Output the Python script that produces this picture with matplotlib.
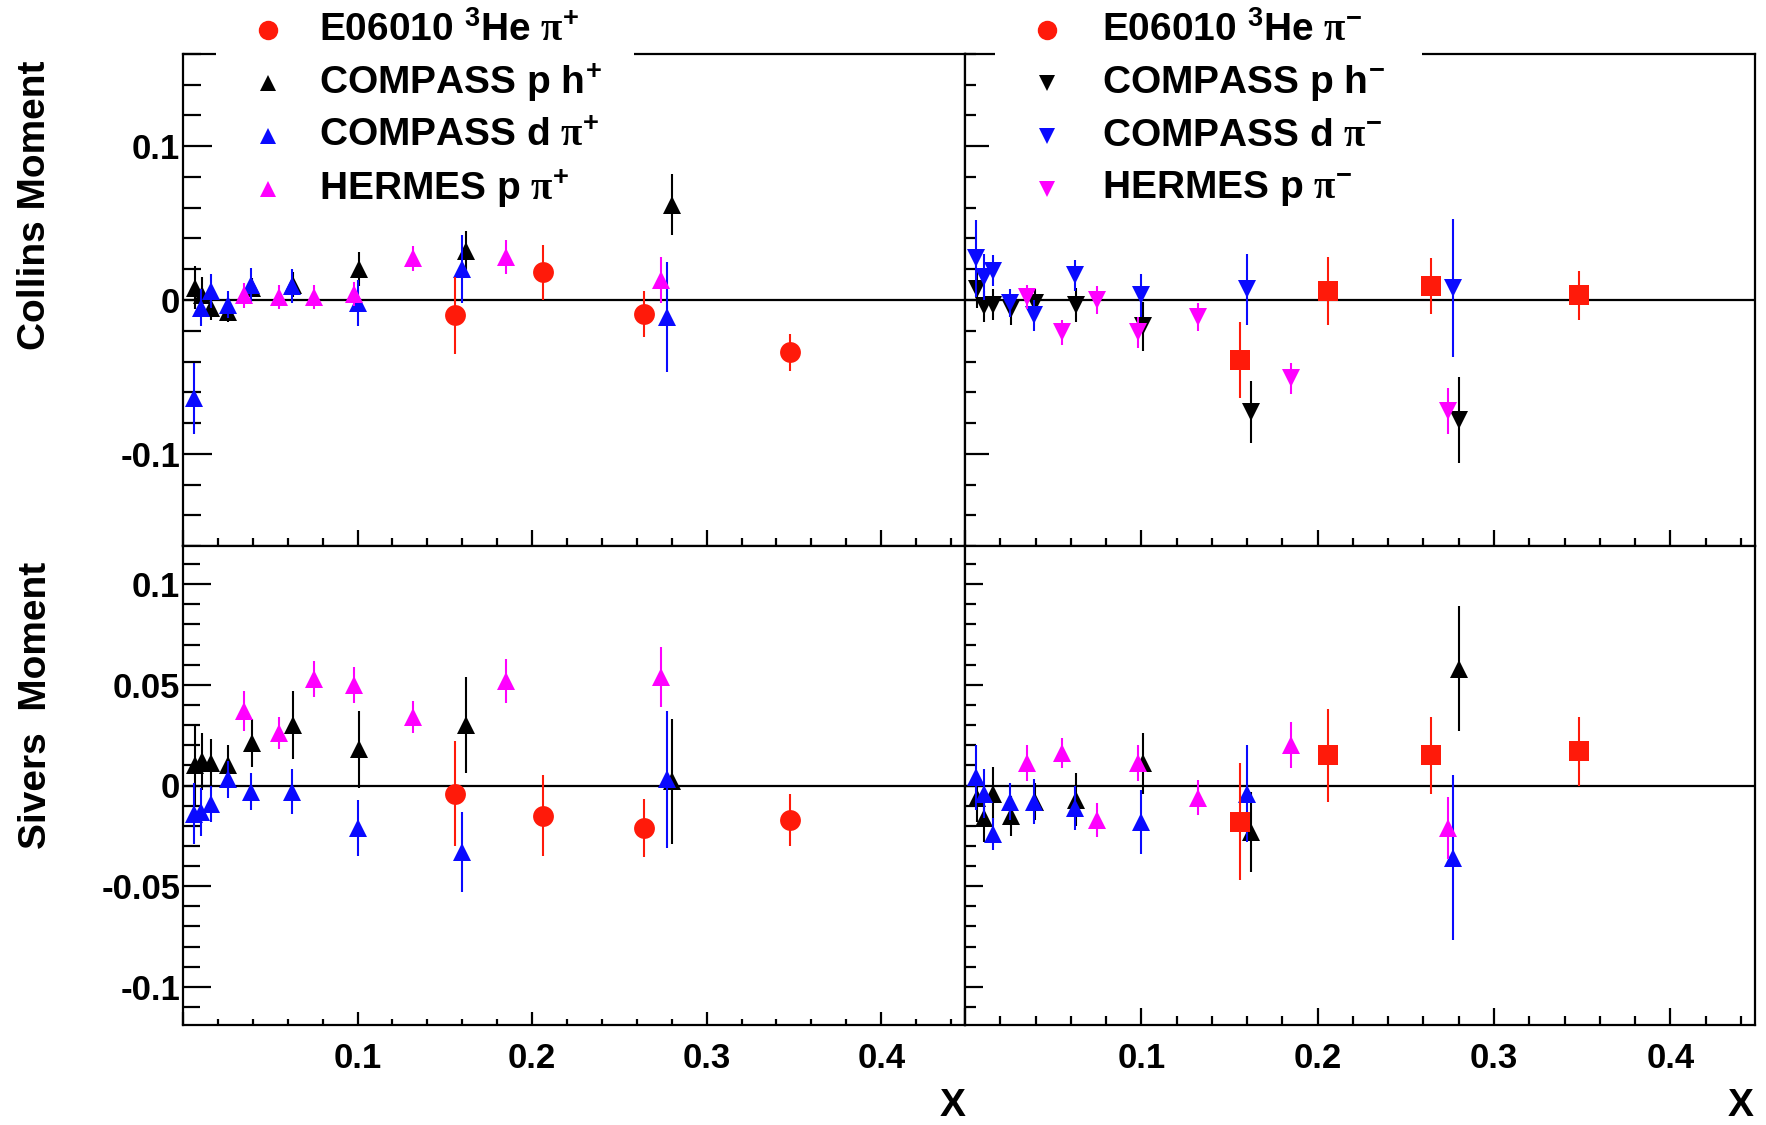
import numpy as np
import matplotlib.pyplot as plt
from matplotlib.lines import Line2D
from matplotlib.patches import Rectangle
from matplotlib.ticker import MultipleLocator

plt.rcParams['font.family'] = 'Liberation Sans'
plt.rcParams['font.weight'] = 'bold'
plt.rcParams['mathtext.fontset'] = 'custom'
plt.rcParams['mathtext.rm'] = 'Liberation Sans:bold'
plt.rcParams['mathtext.sf'] = 'Liberation Serif'
plt.rcParams['mathtext.default'] = 'rm'
plt.rcParams['axes.unicode_minus'] = False

# ------------------------------
# x bins
# ------------------------------
x_e06 = [0.156, 0.206, 0.264, 0.348]
x_comp_p = [0.0070, 0.0110, 0.0160, 0.0260, 0.0396, 0.0630, 0.101, 0.162, 0.280]
x_comp_d = [0.0065, 0.0105, 0.0160, 0.0255, 0.0390, 0.0625, 0.100, 0.160, 0.277]
x_herm = [0.035, 0.055, 0.075, 0.098, 0.132, 0.185, 0.274]

# ------------------------------
# Collins moment, pi+ / h+
# ------------------------------
e06_col_pos = [-0.010, 0.018, -0.009, -0.034]
e06_col_pos_err = [0.025, 0.018, 0.015, 0.012]
compp_col_pos = [0.008, 0.003, -0.005, -0.008, 0.008, 0.010, 0.020, 0.032, 0.062]
compp_col_pos_err = [0.014, 0.012, 0.008, 0.006, 0.006, 0.008, 0.011, 0.013, 0.020]
compd_col_pos = [-0.064, -0.005, 0.006, -0.003, 0.010, 0.009, -0.002, 0.020, -0.011]
compd_col_pos_err = [0.023, 0.012, 0.011, 0.009, 0.011, 0.011, 0.015, 0.022, 0.036]
herm_col_pos = [0.003, 0.002, 0.002, 0.004, 0.027, 0.028, 0.013]
herm_col_pos_err = [0.008, 0.008, 0.008, 0.008, 0.008, 0.011, 0.015]

# ------------------------------
# Collins moment, pi- / h-
# ------------------------------
e06_col_neg = [-0.039, 0.006, 0.009, 0.003]
e06_col_neg_err = [0.025, 0.022, 0.018, 0.016]
compp_col_neg = [0.007, -0.004, -0.003, -0.006, -0.002, -0.003, -0.017, -0.073, -0.078]
compp_col_neg_err = [0.012, 0.010, 0.010, 0.010, 0.009, 0.011, 0.016, 0.020, 0.028]
compd_col_neg = [0.027, 0.015, 0.019, -0.002, -0.010, 0.016, 0.003, 0.007, 0.008]
compd_col_neg_err = [0.025, 0.015, 0.010, 0.009, 0.010, 0.010, 0.014, 0.023, 0.045]
herm_col_neg = [0.002, -0.021, 0.000, -0.021, -0.011, -0.051, -0.072]
herm_col_neg_err = [0.008, 0.008, 0.009, 0.010, 0.009, 0.010, 0.015]

# ------------------------------
# Sivers moment, pi+ / h+
# ------------------------------
e06_siv_pos = [-0.004, -0.015, -0.021, -0.017]
e06_siv_pos_err = [0.026, 0.020, 0.0145, 0.013]
compp_siv_pos = [0.010, 0.012, 0.011, 0.010, 0.021, 0.030, 0.018, 0.030, 0.002]
compp_siv_pos_err = [0.020, 0.014, 0.012, 0.010, 0.012, 0.017, 0.019, 0.024, 0.031]
compd_siv_pos = [-0.014, -0.013, -0.009, 0.003, -0.003, -0.003, -0.021, -0.033, 0.003]
compd_siv_pos_err = [0.015, 0.012, 0.009, 0.009, 0.009, 0.011, 0.014, 0.020, 0.034]
herm_siv_pos = [0.037, 0.026, 0.053, 0.050, 0.034, 0.052, 0.054]
herm_siv_pos_err = [0.010, 0.008, 0.009, 0.009, 0.008, 0.011, 0.015]

# ------------------------------
# Sivers moment, pi- / h-
# ------------------------------
e06_siv_neg = [-0.018, 0.015, 0.015, 0.017]
e06_siv_neg_err = [0.029, 0.023, 0.019, 0.017]
compp_siv_neg = [-0.006, -0.016, -0.004, -0.015, -0.008, -0.007, 0.011, -0.023, 0.058]
compp_siv_neg_err = [0.012, 0.012, 0.013, 0.010, 0.009, 0.013, 0.015, 0.020, 0.031]
compd_siv_neg = [0.004, -0.004, -0.024, -0.008, -0.008, -0.011, -0.018, -0.004, -0.036]
compd_siv_neg_err = [0.016, 0.012, 0.008, 0.009, 0.011, 0.011, 0.016, 0.024, 0.041]
herm_siv_neg = [0.011, 0.016, -0.017, 0.011, -0.006, 0.020, -0.021]
herm_siv_neg_err = [0.009, 0.0075, 0.0085, 0.009, 0.0085, 0.0115, 0.0155]

RED = '#ff1a0a'
BLUE = '#0a0aff'
MAG = '#ff00ff'
BLK = 'black'

labels_pos = [r'E06010 $^{3}$He $\mathsf{\pi}^{+}$', r'COMPASS p h$^{+}$',
              r'COMPASS d $\mathsf{\pi}^{+}$', r'HERMES p $\mathsf{\pi}^{+}$']
labels_neg = [r'E06010 $^{3}$He $\mathsf{\pi}^{-}$', r'COMPASS p h$^{-}$',
              r'COMPASS d $\mathsf{\pi}^{-}$', r'HERMES p $\mathsf{\pi}^{-}$']

W, H = 1766, 1125
fig = plt.figure(figsize=(W/100, H/100), dpi=100)

L, M, R = 183/W, 965/W, 1755/W
T, MID, B = 1 - 54/H, 1 - 546/H, 1 - 1025/H

ax_ul = fig.add_axes([L, MID, M - L, T - MID])
ax_ur = fig.add_axes([M, MID, R - M, T - MID])
ax_ll = fig.add_axes([L, B, M - L, MID - B])
ax_lr = fig.add_axes([M, B, R - M, MID - B])


def draw(ax, e06, e06e, cp, cpe, cd, cde, hm, hme, tri, sq):
    ax.axhline(0, color='black', lw=1.6, zorder=1)
    kw = dict(elinewidth=1.5, capsize=3, capthick=1.5, mew=0, linestyle='none')
    ax.errorbar(x_comp_p, cp, yerr=cpe, marker=tri, ms=12.5, color=BLK, zorder=3, **kw)
    ax.errorbar(x_comp_d, cd, yerr=cde, marker=tri, ms=12.5, color=BLUE, zorder=4, **kw)
    ax.errorbar(x_herm, hm, yerr=hme, marker=tri, ms=12.5, color=MAG, zorder=5, **kw)
    if sq:
        ax.errorbar(x_e06, e06, yerr=e06e, marker='s', ms=14, color=RED, zorder=6, **kw)
    else:
        ax.errorbar(x_e06, e06, yerr=e06e, marker='o', ms=15, color=RED, zorder=6, **kw)


draw(ax_ul, e06_col_pos, e06_col_pos_err, compp_col_pos, compp_col_pos_err,
     compd_col_pos, compd_col_pos_err, herm_col_pos, herm_col_pos_err, '^', False)
draw(ax_ur, e06_col_neg, e06_col_neg_err, compp_col_neg, compp_col_neg_err,
     compd_col_neg, compd_col_neg_err, herm_col_neg, herm_col_neg_err, 'v', True)
draw(ax_ll, e06_siv_pos, e06_siv_pos_err, compp_siv_pos, compp_siv_pos_err,
     compd_siv_pos, compd_siv_pos_err, herm_siv_pos, herm_siv_pos_err, '^', False)
draw(ax_lr, e06_siv_neg, e06_siv_neg_err, compp_siv_neg, compp_siv_neg_err,
     compd_siv_neg, compd_siv_neg_err, herm_siv_neg, herm_siv_neg_err, '^', True)

# axes, ticks (ROOT style: inward ticks, no labels on inner edges)
x_ticks = [0.0, 0.1, 0.2, 0.3, 0.4]
x_ticklabels = ['', '0.1', '0.2', '0.3', '0.4']
for ax in [ax_ul, ax_ur, ax_ll, ax_lr]:
    ax.set_xlim(0, 0.448)
    ax.set_xticks(x_ticks)
    ax.set_xticklabels(x_ticklabels)
    ax.xaxis.set_minor_locator(MultipleLocator(0.02))
    for s in ax.spines.values():
        s.set_linewidth(1.6)
    ax.tick_params(which='both', direction='in', top=False, right=False, width=1.6,
                   labelsize=25, colors='black')
    ax.tick_params(axis='x', which='major', pad=12)
    ax.tick_params(axis='y', which='major', pad=2)

for ax in [ax_ul, ax_ur]:
    ax.set_ylim(-0.16, 0.16)
    ax.set_yticks([-0.1, 0.0, 0.1])
    ax.set_yticklabels(['-0.1', '0', '0.1'])
    ax.yaxis.set_minor_locator(MultipleLocator(0.02))
    ax.tick_params(labelbottom=False)
    ax.tick_params(axis='x', which='major', length=11.5)
    ax.tick_params(axis='x', which='minor', length=5.8)

for ax in [ax_ll, ax_lr]:
    ax.set_ylim(-0.119, 0.119)
    ax.set_yticks([-0.1, -0.05, 0.0, 0.05, 0.1])
    ax.set_yticklabels(['-0.1', '-0.05', '0', '0.05', '0.1'])
    ax.yaxis.set_minor_locator(MultipleLocator(0.01))

ax_ul.tick_params(axis='y', which='major', length=21)
ax_ul.tick_params(axis='y', which='minor', length=13)
ax_ur.tick_params(axis='y', which='major', length=17)
ax_ur.tick_params(axis='y', which='minor', length=8)
ax_ur.tick_params(labelleft=False)
ax_ll.tick_params(axis='y', which='major', length=20)
ax_ll.tick_params(axis='y', which='minor', length=12)
ax_ll.tick_params(axis='x', which='major', length=9.5)
ax_ll.tick_params(axis='x', which='minor', length=4.5)
ax_lr.tick_params(axis='y', which='major', length=13)
ax_lr.tick_params(axis='y', which='minor', length=8)
ax_lr.tick_params(axis='x', which='major', length=12.5)
ax_lr.tick_params(axis='x', which='minor', length=6.2)
ax_lr.tick_params(labelleft=False)

# axis titles
fig.text(35/W, 1 - 205/H, 'Collins Moment', rotation=90, ha='center', va='center', fontsize=28)
fig.text(36/W, 1 - 705/H, 'Sivers  Moment', rotation=90, ha='center', va='center', fontsize=28)
fig.text(966/W, 1 - 1106/H, 'X', ha='right', va='center', fontsize=28)
fig.text(1754/W, 1 - 1106/H, 'X', ha='right', va='center', fontsize=28)

# legends (white boxes overlap the top frame)
fig.add_artist(Rectangle((216/W, 1 - 215/H), (634 - 216)/W, 215/H, transform=fig.transFigure,
                         facecolor='white', edgecolor='none', zorder=2))
fig.add_artist(Rectangle((995/W, 1 - 215/H), (1422 - 995)/W, 215/H, transform=fig.transFigure,
                         facecolor='white', edgecolor='none', zorder=2))

rows = [30, 83, 136, 189]
leg_pos = [('o', RED, 14), ('^', BLK, 11), ('^', BLUE, 11), ('^', MAG, 11)]
leg_neg = [('o', RED, 14), ('v', BLK, 11), ('v', BLUE, 11), ('v', MAG, 11)]
for (m, c, s), lab, yy in zip(leg_pos, labels_pos, rows):
    fig.add_artist(Line2D([268/W], [1 - yy/H], transform=fig.transFigure, marker=m,
                          color=c, ms=s, mew=0, linestyle='none', zorder=3))
    fig.text(319/W, 1 - yy/H, lab, ha='left', va='center', fontsize=28, zorder=3)
for (m, c, s), lab, yy in zip(leg_neg, labels_neg, rows):
    fig.add_artist(Line2D([1047/W], [1 - yy/H], transform=fig.transFigure, marker=m,
                          color=c, ms=s, mew=0, linestyle='none', zorder=3))
    fig.text(1102/W, 1 - yy/H, lab, ha='left', va='center', fontsize=28, zorder=3)

fig.savefig('out.png', dpi=100)
